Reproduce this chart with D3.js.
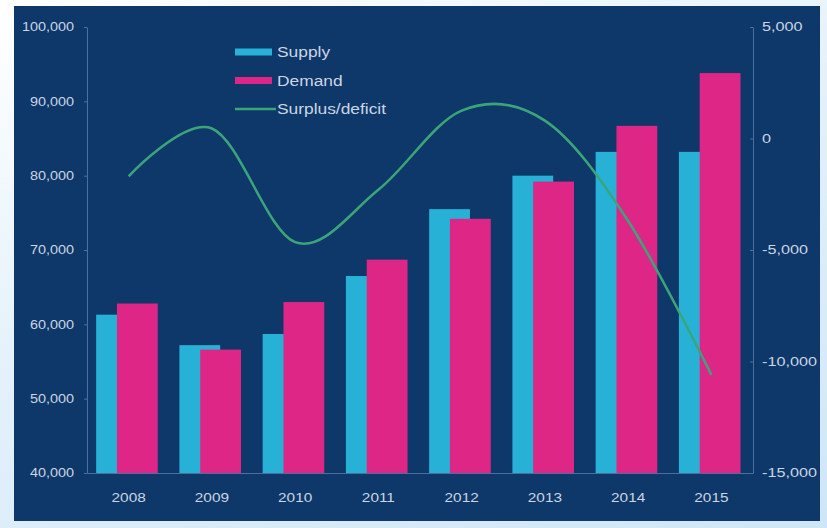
<!DOCTYPE html>
<html>
<head>
<meta charset="utf-8">
<script src="https://cdn.jsdelivr.net/npm/d3@7"></script>
<style>
  html, body { margin: 0; padding: 0; }
  body { width: 827px; height: 528px; overflow: hidden;
         background: linear-gradient(160deg, #ffffff 0%, #e4f1fb 45%, #cfe6f7 100%); }
  svg { display: block; }
</style>
</head>
<body>
<script>
// data
const years = ["2008", "2009", "2010", "2011", "2012", "2013", "2014", "2015"];
const supply = [61300, 57200, 58700, 66500, 75500, 80000, 83200, 83200];
const demand = [62800, 56600, 63000, 68700, 74200, 79200, 86700, 93800];
const surplus = [-1700, 450, -4650, -2300, 1250, 800, -3700, -10600];
const leftTicks = [40000, 50000, 60000, 70000, 80000, 90000, 100000];
const rightTicks = [-15000, -10000, -5000, 0, 5000];
const seriesNames = ["Supply", "Demand", "Surplus/deficit"];

const width = 827;
const height = 528;
const margin = { top: 27, right: 74, bottom: 55, left: 87 };

const navy = "#0e386a";
const cyan = "#27b1d6";
const pink = "#de2687";
const green = "#3ba57a";
const textCol = "#cbd5e3";
const axisCol = "#4b6f9f";
const font = "'Liberation Sans', Arial, sans-serif";

const svg = d3.select("body")
  .append("svg")
  .attr("width", width)
  .attr("height", height);

// dark panel
svg.append("rect")
  .attr("x", 14)
  .attr("y", 6)
  .attr("width", 806)
  .attr("height", 515)
  .attr("fill", navy);

// the picture is stretched sideways, so stretch the text the same way
function stretch(sel, k) {
  sel.each(function() {
    const w = this.getComputedTextLength();
    d3.select(this).attr("textLength", w * k).attr("lengthAdjust", "spacingAndGlyphs");
  });
}

const xScale = d3.scaleBand()
  .domain(years)
  .range([margin.left, width - margin.right]);

const bw = xScale.bandwidth();

const yLeft = d3.scaleLinear()
  .domain([40000, 100000])
  .range([height - margin.bottom, margin.top]);

const yRight = d3.scaleLinear()
  .domain([-15000, 5000])
  .range([height - margin.bottom, margin.top]);

const fmt = d => d.toLocaleString("en-US");

// supply bars (behind)
svg.selectAll(".supply")
  .data(years)
  .enter()
  .append("rect")
  .attr("class", "supply")
  .attr("x", d => xScale(d) + bw * 0.11)
  .attr("y", (d, i) => yLeft(supply[i]))
  .attr("width", bw * 0.49)
  .attr("height", (d, i) => yLeft(40000) - yLeft(supply[i]))
  .attr("fill", cyan);

// demand bars (in front)
svg.selectAll(".demand")
  .data(years)
  .enter()
  .append("rect")
  .attr("class", "demand")
  .attr("x", d => xScale(d) + bw * 0.36)
  .attr("y", (d, i) => yLeft(demand[i]))
  .attr("width", bw * 0.49)
  .attr("height", (d, i) => yLeft(40000) - yLeft(demand[i]))
  .attr("fill", pink);

// surplus / deficit line on right axis
const line = d3.line()
  .x((d, i) => xScale(years[i]) + bw / 2)
  .y(d => yRight(d))
  .curve(d3.curveCardinal.tension(0));

svg.append("path")
  .datum(surplus)
  .attr("d", line)
  .attr("fill", "none")
  .attr("stroke", green)
  .attr("stroke-width", 2.5);

// left axis
const gLeft = svg.append("g")
  .attr("transform", `translate(${margin.left},0)`)
  .call(d3.axisLeft(yLeft).tickValues(leftTicks).tickFormat(fmt).tickSize(3).tickSizeOuter(0).tickPadding(10));

// right axis, ticks point inward
const gRight = svg.append("g")
  .attr("transform", `translate(${width - margin.right},0)`)
  .call(d3.axisRight(yRight).tickValues(rightTicks).tickFormat(fmt).tickSize(-3).tickSizeOuter(0).tickPadding(9));

// bottom axis
const gBottom = svg.append("g")
  .attr("transform", `translate(0,${height - margin.bottom})`)
  .call(d3.axisBottom(xScale).tickSize(0).tickPadding(20));

[gLeft, gRight, gBottom].forEach(g => {
  g.selectAll("path, line").attr("stroke", axisCol).attr("stroke-width", 1);
  g.selectAll("text")
    .attr("fill", textCol)
    .style("font-family", font)
    .style("font-size", "12px");
});
stretch(gLeft.selectAll("text"), 1.2);
stretch(gRight.selectAll("text"), 1.35);
stretch(gBottom.selectAll("text"), 1.28);

// legend
const legend = svg.append("g")
  .attr("transform", "translate(235,52)");

const legendColors = [cyan, pink, green];

const items = legend.selectAll(".item")
  .data(seriesNames)
  .enter()
  .append("g")
  .attr("transform", (d, i) => `translate(0,${i * 28.5})`);

items.each(function(d, i) {
  const g = d3.select(this);
  if (i < 2) {
    g.append("rect")
      .attr("x", 0)
      .attr("y", -3.5)
      .attr("width", 37)
      .attr("height", 7)
      .attr("fill", legendColors[i]);
  } else {
    g.append("line")
      .attr("x1", 0)
      .attr("x2", 41)
      .attr("y1", 0)
      .attr("y2", 0)
      .attr("stroke", legendColors[i])
      .attr("stroke-width", 2.5);
  }
});

const legendText = items.append("text")
  .attr("x", 42)
  .attr("y", 5)
  .attr("fill", textCol)
  .style("font-family", font)
  .style("font-size", "14px")
  .text(d => d);
stretch(legendText, 1.24);
</script>
</body>
</html>
